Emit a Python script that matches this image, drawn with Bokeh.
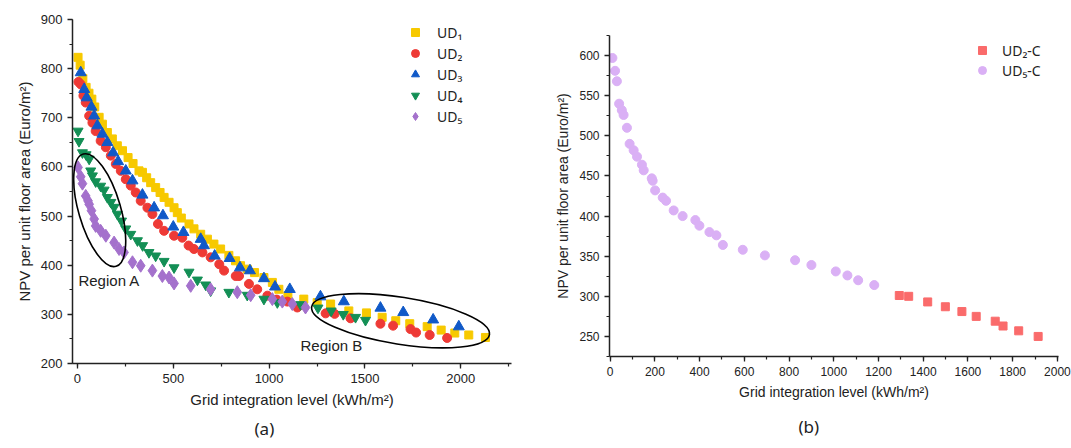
from bokeh.plotting import figure
from bokeh.layouts import row, column
from bokeh.models import (Range1d, Label, Title, Legend, LegendItem,
                          SingleIntervalTicker)
from bokeh.embed import file_html
from bokeh.resources import INLINE

# ---------------- data: panel (a) ----------------
ud1_x = [3, 14, 28, 45, 60, 75, 90, 113, 130, 156, 182, 208, 235, 264, 290, 321, 339,
         361, 382, 408, 431, 452, 478, 504, 521, 542, 582, 608, 643, 678, 712, 747, 790,
         825, 851, 886, 924, 973, 1017, 1051, 1098, 1181, 1251, 1321, 1416, 1508, 1590,
         1661, 1734, 1825, 1898, 1969, 2042, 2129]
ud1_y = [823, 807, 780, 762, 750, 738, 722, 701, 687, 670, 657, 643, 633, 619, 607, 592, 589,
         578, 568, 558, 548, 538, 528, 517, 507, 496, 484, 474, 463, 453, 443, 433, 420,
         409, 399, 392, 385, 375, 365, 351, 338, 331, 324, 321, 307, 303, 294,
         287, 281, 275, 268, 262, 258, 253]

ud2_x = [5, 17, 31, 43, 61, 78, 95, 121, 148, 174, 200, 226, 252, 278, 304, 330, 365, 391,
         420, 452, 504, 547, 580, 608, 652, 695, 740, 765, 826, 843, 895, 938, 991, 1040,
         1095, 1147, 1295, 1342, 1425, 1581, 1647, 1738, 1767, 1838, 1929]
ud2_y = [773, 768, 745, 731, 704, 690, 673, 653, 640, 623, 606, 592, 575, 562, 548, 531, 517, 504,
         484, 470, 460, 456, 440, 433, 426, 416, 402, 389, 378, 378, 362, 351, 338, 330,
         326, 314, 302, 301, 292, 281, 277, 270, 263, 258, 252]

ud3_x = [17, 35, 48, 73, 87, 104, 130, 156, 186, 212, 252, 287, 339, 400, 446, 500, 553, 643,
         660, 716, 794, 848, 900, 973, 1031, 1108, 1268, 1390, 1581, 1700, 1856, 1990]
ud3_y = [792, 758, 741, 722, 704, 684, 667, 650, 629, 611, 592, 572, 543, 517, 501, 478, 467, 453,
         440, 419, 414, 395, 389, 373, 356, 351, 336, 326, 313, 304, 289, 275]

ud4_x = [3, 8, 26, 45, 61, 69, 78, 95, 121, 139, 156, 174, 191, 208, 230, 252, 278, 313, 340,
         373, 408, 452, 504, 582, 626, 669, 695, 790, 886, 973, 1043, 1164, 1255, 1324, 1387,
         1451, 1503]
ud4_y = [673, 652, 629, 625, 616, 592, 582, 570, 561, 553, 538, 528, 518, 504, 490, 474, 463, 450, 440,
         426, 419, 408, 395, 386, 370, 360, 348, 345, 339, 331, 324, 320, 313, 307, 300,
         294, 288]

ud5_x = [3, 17, 26, 43, 55, 61, 73, 87, 95, 121, 148, 191, 217, 243, 287, 330, 391, 443, 478,
         504, 591, 695, 834, 904, 1017, 1069, 1121, 1190]
ud5_y = [599, 580, 566, 541, 531, 524, 511, 494, 480, 470, 460, 446, 433, 426, 406, 399, 389, 378, 375,
         363, 358, 351, 345, 339, 331, 326, 321, 314]

# ---------------- data: panel (b) ----------------
ud2c_x = [1293, 1335, 1420, 1499, 1573, 1637, 1722, 1757, 1827, 1914]
ud2c_y = [301, 300, 293, 287, 281, 275, 269, 263, 257, 250]

ud5c_x = [10, 22, 30, 40, 52, 60, 75, 87, 105, 120, 142, 150, 186, 190, 201, 235, 250, 284,
          324, 381, 399, 444, 475, 504, 593, 692, 827, 900, 1009, 1061, 1109, 1181]
ud5c_y = [597, 581, 568, 540, 532, 526, 510, 490, 482, 474, 464, 457, 447, 444, 432, 423, 419, 407,
          400, 395, 388, 380, 376, 364, 358, 351, 345, 339, 331, 326, 320, 314]

labels_a = ["UD\u2081", "UD\u2082", "UD\u2083", "UD\u2084", "UD\u2085"]
labels_b = ["UD\u2082-C", "UD\u2085-C"]
x_label = "Grid integration level (kWh/m\u00b2)"
y_label = "NPV per unit floor area (Euro/m\u00b2)"

AX_FONT = "Liberation Sans"
LEG_FONT = "Noto Sans"


def style_axes(p, xint, yint, tick_size, label_size):
    p.xaxis.ticker = SingleIntervalTicker(interval=xint, num_minor_ticks=2)
    p.yaxis.ticker = SingleIntervalTicker(interval=yint, num_minor_ticks=2)
    for ax in (p.xaxis[0], p.yaxis[0]):
        ax.axis_line_color = "#222222"
        ax.axis_line_width = 1.5
        ax.major_tick_line_color = "#222222"
        ax.minor_tick_line_color = "#222222"
        ax.major_tick_line_width = 1.3
        ax.minor_tick_line_width = 1.2
        ax.major_tick_out = 5
        ax.major_tick_in = 0
        ax.minor_tick_out = 3
        ax.minor_tick_in = 0
        ax.major_label_text_font = AX_FONT
        ax.major_label_text_font_size = tick_size
        ax.major_label_text_color = "#222222"
        ax.axis_label_text_font = AX_FONT
        ax.axis_label_text_font_size = label_size
        ax.axis_label_text_font_style = "normal"
        ax.axis_label_text_color = "#222222"
    p.xaxis.axis_label = x_label
    p.yaxis.axis_label = y_label
    p.grid.visible = False
    p.outline_line_color = None


# ---------------- panel (a) ----------------
p1 = figure(title=None, width=540, height=448, output_backend="svg", toolbar_location=None,
            x_range=Range1d(-26, 2265), y_range=Range1d(200, 900),
            min_border_left=72, min_border_right=29, min_border_top=19,
            min_border_bottom=85)
style_axes(p1, 500, 100, "13px", "15px")

r1 = p1.scatter(ud1_x, ud1_y, marker="square", size=8, color="#F7C900")
r2 = p1.scatter(ud2_x, ud2_y, marker="circle", size=9, color="#EE3A36")
r3 = p1.scatter(ud3_x, ud3_y, marker="triangle", size=11, color="#1059C8")
r4 = p1.scatter(ud4_x, ud4_y, marker="inverted_triangle", size=10, color="#138F55")
r5 = p1.scatter(ud5_x, ud5_y, marker="diamond", size=13, color="#A471CC")

p1.ellipse(x=[116], y=[512], width=[117], height=[42], angle=[-1.286],
           width_units="screen", height_units="screen",
           fill_color=None, line_color="black", line_width=1.6)
p1.ellipse(x=[1686], y=[287], width=[180], height=[47], angle=[-0.155],
           width_units="screen", height_units="screen",
           fill_color=None, line_color="black", line_width=1.6)

p1.add_layout(Label(x=5, y=368, text="Region A", text_font=AX_FONT,
                    text_font_size="15px", text_baseline="middle", text_color="#222222"))
p1.add_layout(Label(x=1164, y=236, text="Region B", text_font=AX_FONT,
                    text_font_size="15px", text_baseline="middle", text_color="#222222"))

leg1 = Legend(items=[LegendItem(label=l, renderers=[r]) for l, r in
                     zip(labels_a, [r1, r2, r3, r4, r5])],
              location=(333, 237))
p1.add_layout(leg1)
p1.add_layout(Title(text="(a)", align="left", offset=182, standoff=9, text_font=LEG_FONT,
                    text_font_size="17px", text_font_style="normal",
                    text_color="#222222"), "below")

# ---------------- panel (b) ----------------
p2 = figure(title=None, width=531, height=448, output_backend="svg", toolbar_location=None,
            x_range=Range1d(-3, 2005), y_range=Range1d(225, 625),
            min_border_left=69, min_border_right=13, min_border_top=35,
            min_border_bottom=91)
style_axes(p2, 200, 50, "12px", "14px")

s1 = p2.scatter(ud2c_x, ud2c_y, marker="square", size=8, color="#FA6B6B")
s2 = p2.scatter(ud5c_x, ud5c_y, marker="circle", size=9, color="#DAB0F5")

leg2 = Legend(items=[LegendItem(label=l, renderers=[r]) for l, r in
                     zip(labels_b, [s1, s2])],
              location=(363, 276))
p2.add_layout(leg2)
p2.add_layout(Title(text="(b)", align="left", offset=189, standoff=21, text_font=LEG_FONT,
                    text_font_size="17px", text_font_style="normal",
                    text_color="#222222"), "below")

for lg, standoff in ((leg1, 12), (leg2, 10)):
    lg.border_line_color = None
    lg.background_fill_alpha = 0
    lg.label_text_font = LEG_FONT
    lg.label_text_font_size = "14px"
    lg.label_text_color = "#222222"
    lg.glyph_width = 20
    lg.glyph_height = 20
    lg.label_height = 20
    lg.spacing = 1
    lg.padding = 5
    lg.label_standoff = standoff

lg_spacing = {leg1: 0, leg2: 0}
leg1.spacing = 1
leg2.spacing = 0

layout = row(column(p1), column(p2))
open("out.html", "w").write(file_html(layout, INLINE))
